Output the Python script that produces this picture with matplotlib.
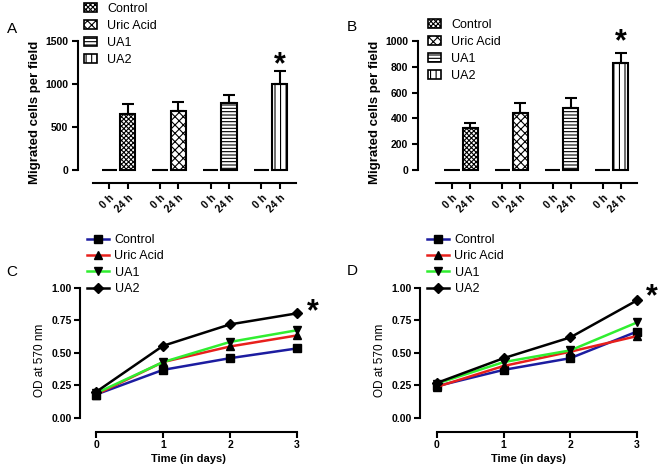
import numpy as np
import matplotlib
matplotlib.use("Agg")
import matplotlib.pyplot as plt
from matplotlib.patches import Patch
from matplotlib.lines import Line2D

plt.rcParams['font.family'] = ['Liberation Sans', 'DejaVu Sans']
plt.rcParams['hatch.linewidth'] = 0.8

groups = ['Control', 'Uric Acid', 'UA1', 'UA2']
hatches = ['xxxxxxx', 'xxxx', '-----', '|||']
times = ['0 h', '24 h']

# migration assay (0 h, 24 h) and upper error
mig_A_0h = [0, 0, 0, 0]
mig_A_24h = [650, 690, 780, 1000]
mig_A_err = [120, 100, 90, 155]
mig_B_0h = [0, 0, 0, 0]
mig_B_24h = [325, 445, 480, 830]
mig_B_err = [40, 75, 80, 75]

# proliferation (OD at 570 nm)
days = [0, 1, 2, 3]
od_C = {
    'Control':   [0.18, 0.37, 0.46, 0.535],
    'Uric Acid': [0.18, 0.43, 0.55, 0.635],
    'UA1':       [0.19, 0.43, 0.585, 0.675],
    'UA2':       [0.20, 0.555, 0.72, 0.805],
}
od_D = {
    'Control':   [0.245, 0.37, 0.46, 0.665],
    'Uric Acid': [0.24, 0.40, 0.51, 0.63],
    'UA1':       [0.265, 0.43, 0.52, 0.735],
    'UA2':       [0.27, 0.46, 0.62, 0.905],
}
line_colors = ['#1c1ca0', '#e8201c', '#30ee30', '#000000']
markers = ['s', '^', 'v', 'D']

W, H = 661, 470
fig = plt.figure(figsize=(W / 100, H / 100), dpi=100)


def px_axes(x0, y0, x1, y1):
    return fig.add_axes([x0 / W, 1 - y1 / H, (x1 - x0) / W, (y1 - y0) / H])


def bar_panel(ax, v0, v24, err, ymax, yticks, ylow, xlow, star_y, leg_xy):
    w = 0.3
    off = 0.18
    for i in range(4):
        ax.bar(i - off, v0[i], w, facecolor='white', edgecolor='black',
               linewidth=1.5, hatch=hatches[i])
        ax.bar(i + off, v24[i], w, facecolor='white', edgecolor='black',
               linewidth=1.5, hatch=hatches[i],
               yerr=[[0], [err[i]]], error_kw=dict(ecolor='black', elinewidth=1.5,
                                                   capsize=4, capthick=1.5))
    ax.set_ylim(ylow, ymax)
    ax.set_xlim(xlow, 3.5)
    ax.spines['top'].set_visible(False)
    ax.spines['right'].set_visible(False)
    ax.spines['left'].set_bounds(0, ymax)
    ax.spines['bottom'].set_bounds(-0.5, 3.5)
    for s in ['left', 'bottom']:
        ax.spines[s].set_linewidth(1.5)
    ax.set_yticks(yticks)
    ax.set_yticklabels([str(t) for t in yticks], fontsize=7.5, fontweight='bold')
    pos = []
    labs = []
    for i in range(4):
        pos += [i - off, i + off]
        labs += times
    ax.set_xticks(pos)
    ax.set_xticklabels(labs, rotation=45, ha='right', rotation_mode='anchor',
                       fontsize=7.5, fontweight='bold')
    ax.tick_params(width=1.5, length=4, pad=3)
    ax.set_ylabel('Migrated cells per field', fontsize=9.5, fontweight='bold', labelpad=3)
    ax.text(3 + off, star_y, '*', ha='center', va='center', fontsize=22, fontweight='bold')
    handles = [Patch(facecolor='white', edgecolor='black', hatch=hatches[i], linewidth=1.2)
               for i in range(4)]
    fig.legend(handles, groups, loc='upper left', bbox_to_anchor=(leg_xy[0] / W, 1 - leg_xy[1] / H),
               frameon=False, fontsize=9, handlelength=1.05, handleheight=0.65,
               labelspacing=0.4, handletextpad=0.8, borderpad=0, borderaxespad=0)


def line_panel(ax, data, xlow, star_xy, leg_xy):
    for i, g in enumerate(groups):
        ax.plot(days, data[g], color=line_colors[i], marker=markers[i], markersize=5.5,
                markerfacecolor='black', markeredgecolor='black', linewidth=1.8,
                clip_on=False, label=g)
    ax.set_ylim(-0.108, 1.0)
    ax.set_xlim(xlow, 3)
    ax.spines['top'].set_visible(False)
    ax.spines['right'].set_visible(False)
    ax.spines['left'].set_bounds(0, 1.0)
    ax.spines['bottom'].set_bounds(0, 3)
    for s in ['left', 'bottom']:
        ax.spines[s].set_linewidth(1.5)
    ax.set_yticks([0, 0.25, 0.5, 0.75, 1.0])
    ax.set_yticklabels(['0.00', '0.25', '0.50', '0.75', '1.00'], fontsize=7.5, fontweight='bold')
    ax.set_xticks(days)
    ax.set_xticklabels([str(d) for d in days], fontsize=7.5, fontweight='bold')
    ax.tick_params(width=1.5, length=4, pad=2)
    ax.set_ylabel('OD at 570 nm', fontsize=8.5, labelpad=4)
    ax.set_xlabel('Time (in days)', fontsize=8, fontweight='bold', labelpad=3)
    fig.text(star_xy[0] / W, 1 - star_xy[1] / H, '*', ha='center', va='center',
             fontsize=22, fontweight='bold')
    handles = [Line2D([], [], color=line_colors[i], marker=markers[i], markersize=5.5,
                      markerfacecolor='black', markeredgecolor='black', linewidth=1.8)
               for i in range(4)]
    fig.legend(handles, groups, loc='upper left', bbox_to_anchor=(leg_xy[0] / W, 1 - leg_xy[1] / H),
               frameon=False, fontsize=9, handlelength=1.75,
               labelspacing=0.35, handletextpad=0.45, borderpad=0, borderaxespad=0)


axA = px_axes(78, 41, 296, 183)
bar_panel(axA, mig_A_0h, mig_A_24h, mig_A_err, 1500, [0, 500, 1000, 1500],
          -151, -0.5 - 15 / 50.6, 1220, (84, 3))
axB = px_axes(418, 41, 637, 183)
bar_panel(axB, mig_B_0h, mig_B_24h, mig_B_err, 1000, [0, 200, 400, 600, 800, 1000],
          -101, -0.5 - 18 / 50.5, 990, (428, 19))

axC = px_axes(80, 288, 297, 432)
line_panel(axC, od_C, -16 / 67, (313, 312), (87, 234))
axD = px_axes(420, 288, 637, 432)
line_panel(axD, od_D, -17 / 66.7, (652, 297), (427, 234))

for lab, x, y in [('A', 12, 29), ('B', 352, 27), ('C', 12, 272), ('D', 352, 271)]:
    fig.text(x / W, 1 - y / H, lab, ha='center', va='center', fontsize=11)

fig.savefig('out.png', dpi=100)
